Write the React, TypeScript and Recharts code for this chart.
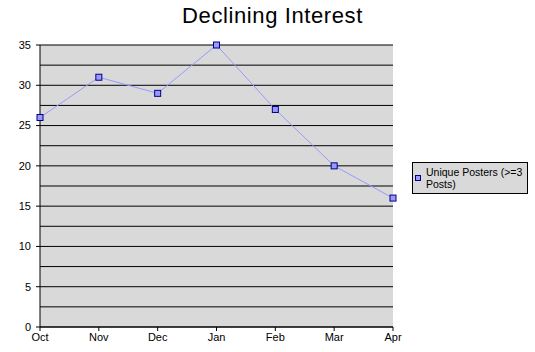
import { CartesianGrid, Line, LineChart, ReferenceLine, XAxis, YAxis } from "recharts";

const months = ["Oct", "Nov", "Dec", "Jan", "Feb", "Mar", "Apr"];
const posters = [26, 31, 29, 35, 27, 20, 16];
const yTicks = [0, 5, 10, 15, 20, 25, 30, 35];
const minorGrid = [2.5, 7.5, 12.5, 17.5, 22.5, 27.5, 32.5];

const data = months.map((month, i) => ({ month, value: posters[i] }));

const font = "'Liberation Sans', Arial, sans-serif";

function SquareDot(props: any) {
  const { cx, cy } = props;
  if (cx == null || cy == null) return null;
  return (
    <rect
      x={cx - 3}
      y={cy - 3}
      width={6}
      height={6}
      fill="#9999ff"
      stroke="#000080"
      strokeWidth={1}
    />
  );
}

export default function App() {
  return (
    <div
      style={{
        position: "absolute",
        left: 0,
        top: 0,
        width: 535,
        height: 352,
        background: "#fff",
        fontFamily: font
      }}
    >
      <div
        style={{
          position: "absolute",
          left: 0,
          width: 545,
          top: 3,
          textAlign: "center",
          fontSize: 22,
          letterSpacing: 0.6,
          color: "#000"
        }}
      >
        Declining Interest
      </div>
      <LineChart
        width={535}
        height={352}
        data={data}
        margin={{ top: 45, right: 142, bottom: 0, left: 0 }}
      >
        <CartesianGrid
          vertical={false}
          stroke="#000"
          strokeWidth={1}
          fill="#d9d9d9"
          fillOpacity={1}
        />
        {minorGrid.map((v) => (
          <ReferenceLine key={v} y={v} stroke="#000" strokeWidth={1} />
        ))}
        <XAxis
          dataKey="month"
          height={25}
          padding={{ left: 0, right: 0 }}
          stroke="#000"
          tickSize={4}
          tickMargin={2}
          interval={0}
          tick={{ fill: "#000", fontSize: 11, fontFamily: font }}
        />
        <YAxis
          width={40}
          domain={[0, 35]}
          ticks={yTicks}
          stroke="#000"
          tickSize={4}
          tickMargin={5}
          tick={{ fill: "#000", fontSize: 11, fontFamily: font }}
        />
        <Line
          dataKey="value"
          type="linear"
          stroke="#9999ff"
          strokeWidth={1}
          dot={<SquareDot />}
          activeDot={false}
          isAnimationActive={false}
        />
      </LineChart>
      <div
        style={{
          position: "absolute",
          left: 412,
          top: 162,
          width: 116,
          height: 32,
          boxSizing: "border-box",
          border: "1px solid #000",
          background: "#d9d9d9",
          fontSize: 10.5,
          lineHeight: "12px",
          color: "#000"
        }}
      >
        <div
          style={{
            position: "absolute",
            left: 2,
            top: 12,
            width: 4,
            height: 4,
            background: "#9999ff",
            border: "1px solid #000080"
          }}
        />
        <div style={{ position: "absolute", left: 13, top: 3, whiteSpace: "nowrap" }}>
          Unique Posters (&gt;=3
          <br />
          Posts)
        </div>
      </div>
    </div>
  );
}
